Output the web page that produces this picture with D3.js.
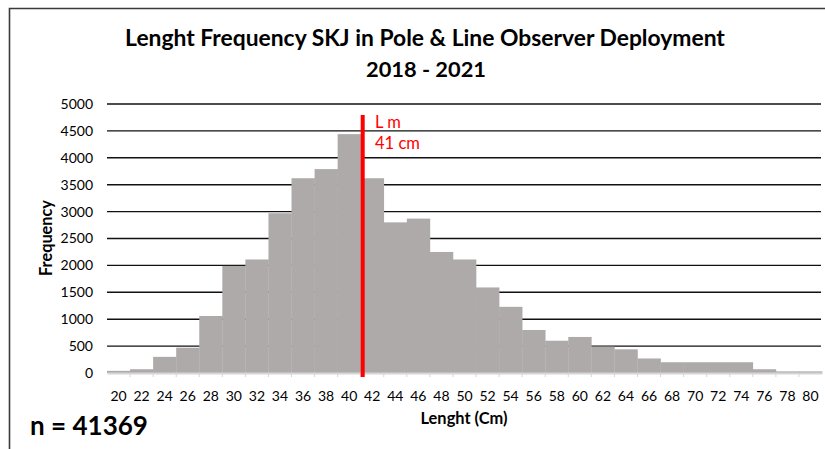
<!DOCTYPE html>
<html>
<head>
<meta charset="utf-8">
<script src="https://cdn.jsdelivr.net/npm/d3@7"></script>
<style>
  html, body { margin: 0; padding: 0; background: #fff; }
  svg { display: block; }
  text { font-family: Lato, "Open Sans", "Liberation Sans", sans-serif; }
</style>
</head>
<body>
<svg id="chart" width="825" height="449"></svg>
<script>
// Length classes (cm) and observed counts
const lengths = [20, 22, 24, 26, 28, 30, 32, 34, 36, 38, 40, 42, 44, 46, 48, 50,
                 52, 54, 56, 58, 60, 62, 64, 66, 68, 70, 72, 74, 76, 78, 80];
const counts  = [40, 70, 300, 470, 1060, 1990, 2110, 2970, 3620, 3790, 4440, 3620, 2800, 2870, 2250, 2110,
                 1590, 1230, 800, 600, 670, 490, 440, 270, 200, 200, 200, 200, 70, 30, 30];
const yTicks = [0, 500, 1000, 1500, 2000, 2500, 3000, 3500, 4000, 4500, 5000];
const meanLength = 41;
const sampleSize = 41369;

const svg = d3.select("#chart");
const W = 825, H = 449;
const plot = { left: 107, right: 822, top: 104, bottom: 373 };

// size a text element so that it spans the given width
function fit(sel, width) {
  sel.attr("font-size", 10);
  const w = sel.node().getComputedTextLength();
  const size = 10 * width / w;
  sel.attr("font-size", size);
  return size;
}

// frame
svg.append("path")
  .attr("d", `M9.5,${H} L9.5,8.5 L${W},8.5`)
  .attr("fill", "none").attr("stroke", "#3a3a3a").attr("stroke-width", 1.6);

const x = d3.scaleBand().domain(lengths).range([plot.left, plot.right]).paddingInner(0).paddingOuter(0);
const y = d3.scaleLinear().domain([0, 5000]).range([plot.bottom, plot.top]);
// continuous length scale aligned with band centres
const xc = d3.scaleLinear()
  .domain([lengths[0] - 1, lengths[lengths.length - 1] + 1])
  .range([plot.left, plot.right]);

// gridlines
svg.append("g").selectAll("line").data(yTicks.filter(d => d > 0)).join("line")
  .attr("x1", plot.left).attr("x2", plot.right - 1)
  .attr("y1", d => y(d)).attr("y2", d => y(d))
  .attr("stroke", "#111").attr("stroke-width", 1.4);

// bars
svg.append("g").selectAll("rect").data(lengths).join("rect")
  .attr("x", d => x(d))
  .attr("width", x.bandwidth() + 0.3)
  .attr("y", (d, i) => y(counts[i]))
  .attr("height", (d, i) => y(0) - y(counts[i]))
  .attr("fill", "#aeaaaa");

// y axis labels
const yAxis = svg.append("g").attr("transform", `translate(${plot.left},0)`)
  .call(d3.axisLeft(y).tickValues(yTicks).tickFormat(d3.format("d")).tickSize(0).tickPadding(14));
yAxis.select(".domain").remove();
const yLabels = yAxis.selectAll("text").attr("fill", "#000");
const tickSize = fit(yLabels.filter(d => d === 3000), 32.5);
yLabels.attr("font-size", tickSize);

// x axis
const xAxis = svg.append("g").attr("transform", `translate(0,${plot.bottom})`)
  .call(d3.axisBottom(x).tickSize(0).tickPadding(18));
xAxis.select(".domain").attr("stroke", "#d6d6d6").attr("stroke-width", 2);
xAxis.selectAll("text").attr("font-size", tickSize).attr("fill", "#000");
// small category boundary ticks
svg.append("g").selectAll("line").data(lengths.slice(1)).join("line")
  .attr("x1", d => x(d)).attr("x2", d => x(d))
  .attr("y1", plot.bottom).attr("y2", plot.bottom + 4)
  .attr("stroke", "#d6d6d6").attr("stroke-width", 1);
svg.selectAll(".tick line").remove();

// mean length marker
svg.append("line")
  .attr("x1", xc(meanLength) + 2).attr("x2", xc(meanLength) + 2)
  .attr("y1", 115).attr("y2", 377)
  .attr("stroke", "#ff0000").attr("stroke-width", 4);
const lm1 = svg.append("text").attr("x", 375).attr("y", 128)
  .attr("fill", "#ff0000").text("L m");
const lm2 = svg.append("text").attr("x", 375).attr("y", 149)
  .attr("fill", "#ff0000").text(`${meanLength} cm`);
lm1.attr("font-size", fit(lm2, 45));

// titles
const t1 = svg.append("text").attr("x", 425).attr("y", 46).attr("text-anchor", "middle")
  .attr("font-weight", "bold").attr("fill", "#000")
  .text("Lenght Frequency SKJ in Pole & Line Observer Deployment");
fit(t1, 600);
const t2 = svg.append("text").attr("x", 426).attr("y", 77).attr("text-anchor", "middle")
  .attr("font-weight", "bold").attr("fill", "#000")
  .text("2018 - 2021");
fit(t2, 120);

const yt = svg.append("text").attr("transform", "translate(52,238) rotate(-90)")
  .attr("text-anchor", "middle").attr("font-weight", "bold")
  .text("Frequency");
fit(yt, 76);
const xt = svg.append("text").attr("x", 464).attr("y", 424).attr("text-anchor", "middle")
  .attr("font-weight", "bold")
  .text("Lenght (Cm)");
fit(xt, 87);
const nt = svg.append("text").attr("x", 30).attr("y", 435)
  .attr("font-weight", "bold")
  .text(`n = ${sampleSize}`);
fit(nt, 118);
</script>
</body>
</html>
